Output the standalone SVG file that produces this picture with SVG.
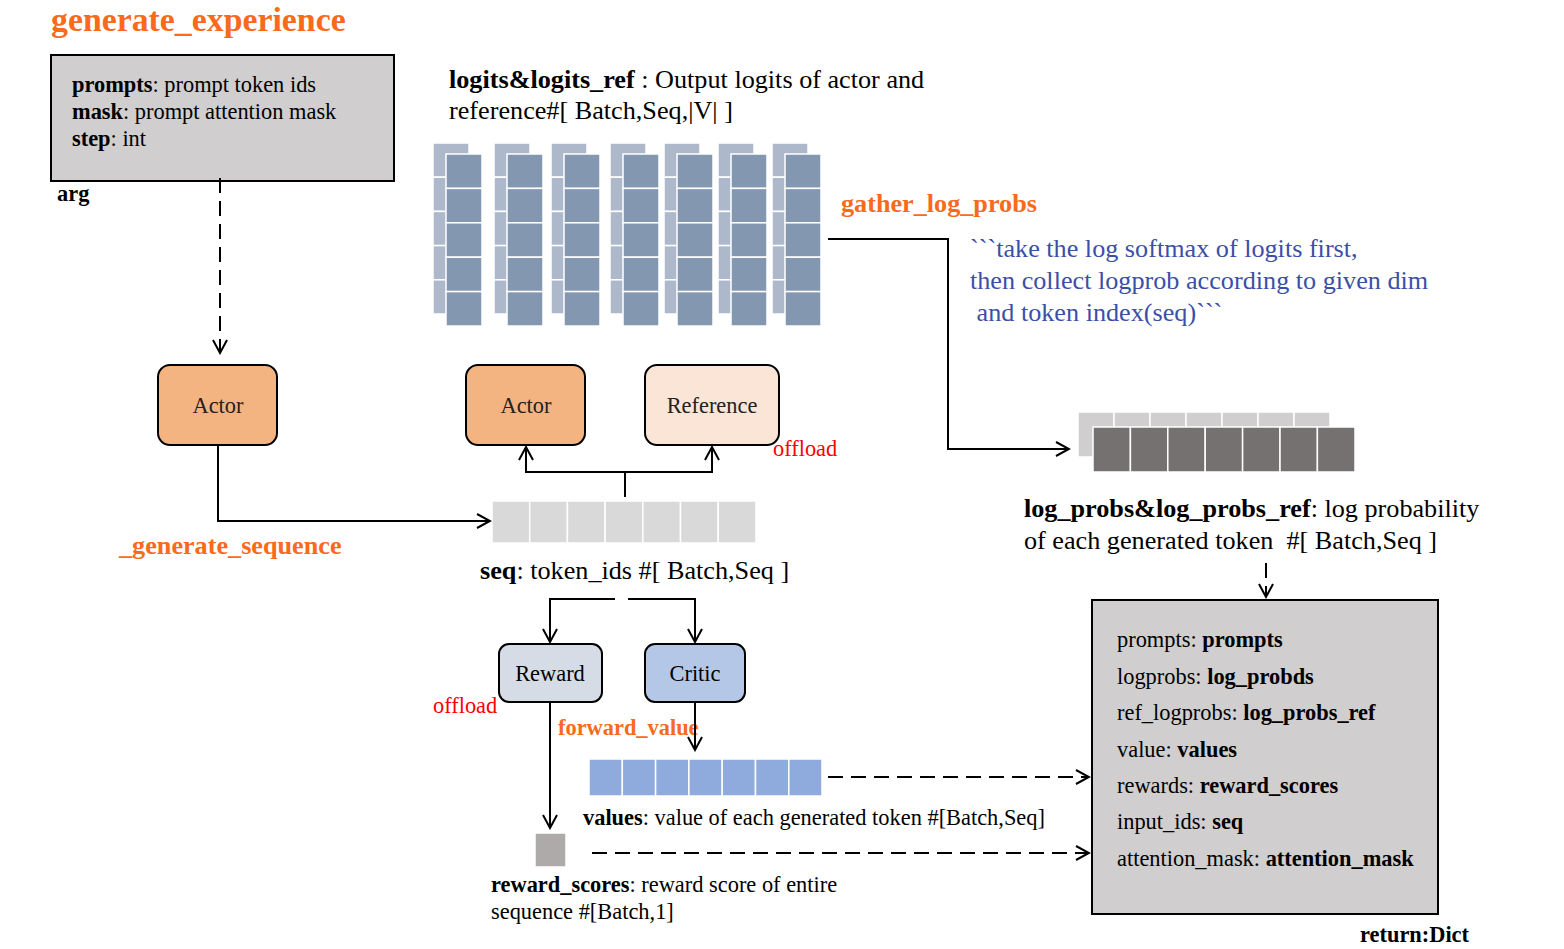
<svg xmlns="http://www.w3.org/2000/svg" xmlns:xlink="http://www.w3.org/1999/xlink" width="1564" height="949" viewBox="0 0 1564 949">
<style>
text{font-family:"Liberation Serif","Times New Roman",serif;fill:#000}
.t22{font-size:22.4px}
.t26{font-size:26.2px}
.b{font-weight:bold}
.org{fill:#F96A1B;font-weight:bold}
.red{fill:#FF0000}
.blue{fill:#3C4FA6}
.node{stroke:#000;stroke-width:2}
.ln{fill:none;stroke:#000;stroke-width:2}
.dash{fill:none;stroke:#000;stroke-width:2;stroke-dasharray:15 8}
.cell{stroke:#fff;stroke-width:1.5}
</style>
<defs>
<marker id="arr" viewBox="0 0 16 16" refX="14" refY="8" markerWidth="16" markerHeight="16" markerUnits="userSpaceOnUse" orient="auto">
<path d="M1,1 L14,8 L1,15" fill="none" stroke="#000" stroke-width="2"/>
</marker>
<g id="logcol">
<g fill="#ADB9CA" class="cell">
<rect x="0" y="0" width="36" height="34.2"/>
<rect x="0" y="34.2" width="36" height="34.2"/>
<rect x="0" y="68.4" width="36" height="34.2"/>
<rect x="0" y="102.6" width="36" height="34.2"/>
<rect x="0" y="136.8" width="36" height="34.2"/>
</g>
<g fill="#8497B0" class="cell">
<rect x="13" y="11" width="36" height="34.4"/>
<rect x="13" y="45.4" width="36" height="34.4"/>
<rect x="13" y="79.8" width="36" height="34.4"/>
<rect x="13" y="114.2" width="36" height="34.4"/>
<rect x="13" y="148.6" width="36" height="34.4"/>
</g>
</g>
</defs>

<text x="51" y="31" class="org" style="font-size:33.8px">generate_experience</text>

<g id="arg-box">
<rect x="51" y="55" width="343" height="126" fill="#D0CECF" class="node"/>
<text x="72" y="92" class="t22"><tspan class="b">prompts</tspan>: prompt token ids</text>
<text x="72" y="119" class="t22"><tspan class="b">mask</tspan>: prompt attention mask</text>
<text x="72" y="146" class="t22"><tspan class="b">step</tspan>: int</text>
<text x="57" y="201" class="t22 b">arg</text>
</g>

<g id="actor-gen">
<rect x="158" y="365" width="119" height="80" rx="12" fill="#F4B482" class="node"/>
<text x="218" y="413" class="t22" text-anchor="middle" style="fill:#222">Actor</text>
</g>

<g id="actor-fwd">
<rect x="466" y="365" width="119" height="80" rx="12" fill="#F4B482" class="node"/>
<text x="526" y="413" class="t22" text-anchor="middle" style="fill:#222">Actor</text>
</g>

<g id="reference">
<rect x="645" y="365" width="134" height="80" rx="12" fill="#FBE5D6" class="node"/>
<text x="712" y="413" class="t22" text-anchor="middle" style="fill:#222">Reference</text>
<text x="773" y="456" class="t22 red">offload</text>
</g>

<g id="logits">
<use xlink:href="#logcol" x="433" y="143"/>
<use xlink:href="#logcol" x="494" y="143"/>
<use xlink:href="#logcol" x="551" y="143"/>
<use xlink:href="#logcol" x="610" y="143"/>
<use xlink:href="#logcol" x="664" y="143"/>
<use xlink:href="#logcol" x="718" y="143"/>
<use xlink:href="#logcol" x="772" y="143"/>
<text x="449" y="88" class="t26"><tspan class="b">logits&amp;logits_ref</tspan> : Output logits of actor and</text>
<text x="449" y="119" class="t26">reference#[ Batch,Seq,|V| ]</text>
</g>

<g id="gather-label">
<text x="841" y="212" class="t26 org">gather_log_probs</text>
<text x="970" y="257" class="t26 blue">```take the log softmax of logits first,</text>
<text x="970" y="289" class="t26 blue">then collect logprob according to given dim</text>
<text x="970" y="321" class="t26 blue" xml:space="preserve"> and token index(seq)```</text>
</g>

<g id="log-probs">
<g fill="#D0CECE" class="cell">
<rect x="1078" y="412" width="36" height="45"/>
<rect x="1114" y="412" width="36" height="45"/>
<rect x="1150" y="412" width="36" height="45"/>
<rect x="1186" y="412" width="36" height="45"/>
<rect x="1222" y="412" width="36" height="45"/>
<rect x="1258" y="412" width="36" height="45"/>
<rect x="1294" y="412" width="36" height="45"/>
</g>
<g fill="#767171" class="cell">
<rect x="1093" y="427" width="37.4" height="45"/>
<rect x="1130.4" y="427" width="37.4" height="45"/>
<rect x="1167.8" y="427" width="37.4" height="45"/>
<rect x="1205.2" y="427" width="37.4" height="45"/>
<rect x="1242.6" y="427" width="37.4" height="45"/>
<rect x="1280" y="427" width="37.4" height="45"/>
<rect x="1317.4" y="427" width="37.6" height="45"/>
</g>
<text x="1024" y="517" class="t26"><tspan class="b">log_probs&amp;log_probs_ref</tspan>: log probability</text>
<text x="1024" y="549" class="t26" xml:space="preserve">of each generated token  #[ Batch,Seq ]</text>
</g>

<g id="seq">
<g fill="#D9D9D9" class="cell">
<rect x="492" y="501" width="37.7" height="42"/>
<rect x="529.7" y="501" width="37.7" height="42"/>
<rect x="567.4" y="501" width="37.7" height="42"/>
<rect x="605.1" y="501" width="37.7" height="42"/>
<rect x="642.8" y="501" width="37.7" height="42"/>
<rect x="680.5" y="501" width="37.7" height="42"/>
<rect x="718.2" y="501" width="37.8" height="42"/>
</g>
<text x="480" y="579" class="t26"><tspan class="b">seq</tspan>: token_ids #[ Batch,Seq ]</text>
<text x="119" y="554" class="t26 org">_generate_sequence</text>
</g>

<g id="reward">
<rect x="499" y="644" width="103" height="58" rx="10" fill="#D6DCE5" class="node"/>
<text x="550" y="681" class="t22" text-anchor="middle">Reward</text>
<text x="433" y="713" class="t22 red">offload</text>
</g>

<g id="critic">
<rect x="645" y="644" width="100" height="58" rx="10" fill="#B4C7E7" class="node"/>
<text x="695" y="681" class="t22" text-anchor="middle">Critic</text>
</g>

<g id="values">
<g fill="#8FAADC" class="cell">
<rect x="589" y="759" width="33.3" height="37"/>
<rect x="622.3" y="759" width="33.3" height="37"/>
<rect x="655.6" y="759" width="33.3" height="37"/>
<rect x="688.9" y="759" width="33.3" height="37"/>
<rect x="722.2" y="759" width="33.3" height="37"/>
<rect x="755.5" y="759" width="33.3" height="37"/>
<rect x="788.8" y="759" width="33.2" height="37"/>
</g>
<text x="583" y="825" class="t22"><tspan class="b">values</tspan>: value of each generated token #[Batch,Seq]</text>
<text x="558" y="735" class="t22 org">forward_value</text>
</g>

<g id="reward-scores">
<rect x="535" y="833" width="31" height="34" fill="#AEAAAA" class="cell"/>
<text x="491" y="892" class="t22"><tspan class="b">reward_scores</tspan>: reward score of entire</text>
<text x="491" y="919" class="t22">sequence #[Batch,1]</text>
</g>

<g id="return-box">
<rect x="1092" y="600" width="346" height="314" fill="#D0CECE" class="node"/>
<text x="1117" y="647" class="t22">prompts: <tspan class="b">prompts</tspan></text>
<text x="1117" y="684" class="t22">logprobs: <tspan class="b">log_probds</tspan></text>
<text x="1117" y="720" class="t22">ref_logprobs: <tspan class="b">log_probs_ref</tspan></text>
<text x="1117" y="757" class="t22">value: <tspan class="b">values</tspan></text>
<text x="1117" y="793" class="t22">rewards: <tspan class="b">reward_scores</tspan></text>
<text x="1117" y="829" class="t22">input_ids: <tspan class="b">seq</tspan></text>
<text x="1117" y="866" class="t22">attention_mask: <tspan class="b">attention_mask</tspan></text>
<text x="1360" y="942" class="t22 b">return:Dict</text>
</g>

<g id="connectors">
<path d="M220,178 V353" class="dash" stroke-dasharray="14 9" marker-end="url(#arr)"/>
<path d="M218,445 V521 H490" class="ln" marker-end="url(#arr)"/>
<path d="M625,497 V472" class="ln"/>
<path d="M625,472 H526 V447" class="ln" marker-end="url(#arr)"/>
<path d="M625,472 H712 V447" class="ln" marker-end="url(#arr)"/>
<path d="M828,239 H948 V449 H1069" class="ln" marker-end="url(#arr)"/>
<path d="M1266,563 V597" class="dash" marker-end="url(#arr)"/>
<path d="M615,599 H550 V642" class="ln" marker-end="url(#arr)"/>
<path d="M628,599 H695 V642" class="ln" marker-end="url(#arr)"/>
<path d="M550,702 V828" class="ln" marker-end="url(#arr)"/>
<path d="M695,702 V750" class="ln" marker-end="url(#arr)"/>
<path d="M828,777 H1089" class="dash" marker-end="url(#arr)"/>
<path d="M592,853 H1089" class="dash" marker-end="url(#arr)"/>
</g>
</svg>
